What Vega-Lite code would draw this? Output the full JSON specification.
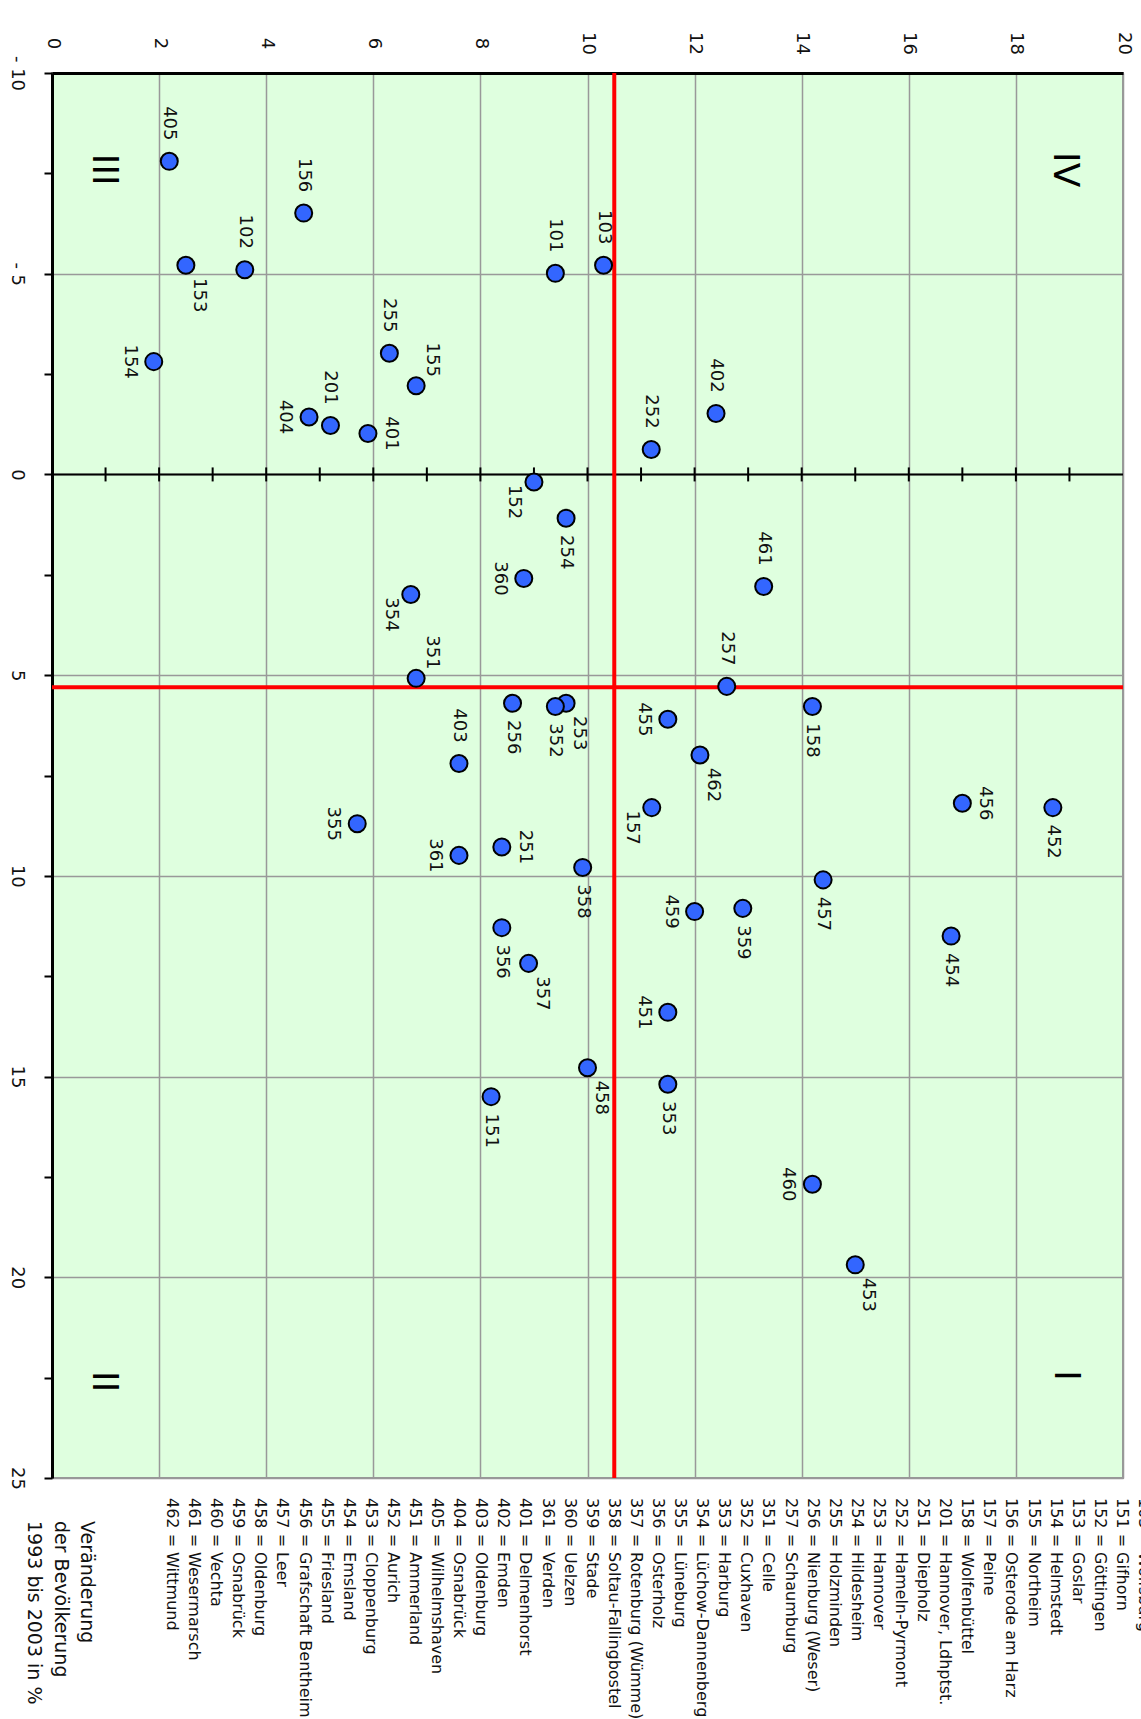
{
  "$schema": "https://vega.github.io/schema/vega-lite/v6.json",
  "autosize": {"type": "pad"},
  "padding": {"left": 6, "top": 30, "right": 0, "bottom": 0},
  "background": "white",
  "bounds": "flush",
  "spacing": 20,
  "config": {"font": "DejaVu Sans", "view": {"stroke": null}},
  "datasets": {
    "pts": [
      {"code": 101, "wert": 9.40, "bev": -5.01, "pos": "N"},
      {"code": 102, "wert": 3.60, "bev": -5.10, "pos": "N"},
      {"code": 103, "wert": 10.30, "bev": -5.21, "pos": "N"},
      {"code": 151, "wert": 8.20, "bev": 15.50, "pos": "S"},
      {"code": 152, "wert": 9.00, "bev": 0.19, "pos": "SW"},
      {"code": 153, "wert": 2.50, "bev": -5.21, "pos": "SE"},
      {"code": 154, "wert": 1.90, "bev": -2.81, "pos": "W"},
      {"code": 155, "wert": 6.80, "bev": -2.21, "pos": "NE"},
      {"code": 156, "wert": 4.70, "bev": -6.51, "pos": "N"},
      {"code": 157, "wert": 11.20, "bev": 8.30, "pos": "SW"},
      {"code": 158, "wert": 14.20, "bev": 5.78, "pos": "S"},
      {"code": 201, "wert": 5.20, "bev": -1.22, "pos": "N"},
      {"code": 251, "wert": 8.40, "bev": 9.28, "pos": "E"},
      {"code": 252, "wert": 11.19, "bev": -0.62, "pos": "N"},
      {"code": 253, "wert": 9.60, "bev": 5.70, "pos": "SE"},
      {"code": 254, "wert": 9.60, "bev": 1.09, "pos": "S"},
      {"code": 255, "wert": 6.30, "bev": -3.02, "pos": "N"},
      {"code": 256, "wert": 8.60, "bev": 5.70, "pos": "S"},
      {"code": 257, "wert": 12.60, "bev": 5.28, "pos": "N"},
      {"code": 351, "wert": 6.80, "bev": 5.08, "pos": "NE"},
      {"code": 352, "wert": 9.40, "bev": 5.78, "pos": "S"},
      {"code": 353, "wert": 11.50, "bev": 15.19, "pos": "S"},
      {"code": 354, "wert": 6.70, "bev": 2.99, "pos": "SW"},
      {"code": 355, "wert": 5.70, "bev": 8.70, "pos": "W"},
      {"code": 356, "wert": 8.40, "bev": 11.29, "pos": "S"},
      {"code": 357, "wert": 8.90, "bev": 12.18, "pos": "SE"},
      {"code": 358, "wert": 9.91, "bev": 9.79, "pos": "S"},
      {"code": 359, "wert": 12.90, "bev": 10.81, "pos": "S"},
      {"code": 360, "wert": 8.81, "bev": 2.59, "pos": "W"},
      {"code": 361, "wert": 7.60, "bev": 9.49, "pos": "W"},
      {"code": 401, "wert": 5.90, "bev": -1.02, "pos": "E"},
      {"code": 402, "wert": 12.40, "bev": -1.52, "pos": "N"},
      {"code": 403, "wert": 7.60, "bev": 7.20, "pos": "N"},
      {"code": 404, "wert": 4.80, "bev": -1.43, "pos": "W"},
      {"code": 405, "wert": 2.19, "bev": -7.80, "pos": "N"},
      {"code": 451, "wert": 11.50, "bev": 13.40, "pos": "W"},
      {"code": 452, "wert": 18.69, "bev": 8.30, "pos": "S"},
      {"code": 453, "wert": 15.00, "bev": 19.69, "pos": "SE"},
      {"code": 454, "wert": 16.79, "bev": 11.50, "pos": "S"},
      {"code": 455, "wert": 11.50, "bev": 6.10, "pos": "W"},
      {"code": 456, "wert": 17.00, "bev": 8.19, "pos": "E"},
      {"code": 457, "wert": 14.40, "bev": 10.10, "pos": "S"},
      {"code": 458, "wert": 10.00, "bev": 14.78, "pos": "SE"},
      {"code": 459, "wert": 12.00, "bev": 10.89, "pos": "W"},
      {"code": 460, "wert": 14.20, "bev": 17.68, "pos": "W"},
      {"code": 461, "wert": 13.29, "bev": 2.79, "pos": "N"},
      {"code": 462, "wert": 12.10, "bev": 6.99, "pos": "SE"}
    ]
  },
  "vconcat": [
    {
      "width": 1071,
      "height": 1405,
      "view": {"fill": "#dfffdf", "stroke": "#999999", "strokeWidth": 2},
      "layer": [
        {
          "data": {"name": "pts"},
          "mark": {"type": "point", "shape": "circle", "filled": true, "size": 290, "fill": "#3366ff", "stroke": "#000000", "strokeWidth": 2, "opacity": 0},
          "encoding": {
            "x": {
              "field": "wert", "type": "quantitative",
              "scale": {"domain": [0, 20], "nice": false, "zero": false},
              "axis": {
                "orient": "top", "title": null,
                "values": [0, 2, 4, 6, 8, 10, 12, 14, 16, 18, 20],
                "labelAngle": 90, "labelAlign": "center", "labelBaseline": "middle",
                "labelPadding": 30, "ticks": true, "tickSize": 0,
                "labelFontSize": 18, "labelColor": "#111", "labelFlush": false, "labelOverlap": false,
                "domainColor": "#000000", "domainWidth": 3,
                "grid": true, "gridColor": "#999999", "gridWidth": 1.5
              }
            },
            "y": {
              "field": "bev", "type": "quantitative",
              "scale": {"domain": [-10, 25], "nice": false, "zero": false, "reverse": true},
              "axis": {
                "orient": "left", "title": null,
                "values": [-10, -7.5, -5, -2.5, 0, 2.5, 5, 7.5, 10, 12.5, 15, 17.5, 20, 22.5, 25],
                "labelExpr": "datum.value % 5 !== 0 ? '' : (datum.value < 0 ? '- ' + abs(datum.value) : '' + datum.value)",
                "labelAngle": 90, "labelAlign": "center", "labelBaseline": "middle",
                "labelPadding": 28, "tickSize": 8, "tickWidth": 2, "tickColor": "#000000",
                "labelFontSize": 18, "labelColor": "#111", "labelFlush": false, "labelOverlap": false,
                "domainColor": "#000000", "domainWidth": 3,
                "grid": true, "gridColor": "#999999", "gridWidth": 1.5,
                "gridOpacity": {"condition": {"test": "datum.value % 5 === 0", "value": 1}, "value": 0}
              }
            }
          }
        },
        {
          "data": {"values": [{"z": 0}]},
          "mark": {"type": "rule", "color": "#000000", "strokeWidth": 2},
          "encoding": {"y": {"field": "z", "type": "quantitative"}}
        },
        {
          "data": {"values": [{"t": 1, "z": 0}, {"t": 2, "z": 0}, {"t": 3, "z": 0}, {"t": 4, "z": 0}, {"t": 5, "z": 0}, {"t": 6, "z": 0}, {"t": 7, "z": 0}, {"t": 8, "z": 0}, {"t": 9, "z": 0}, {"t": 10, "z": 0}, {"t": 11, "z": 0}, {"t": 12, "z": 0}, {"t": 13, "z": 0}, {"t": 14, "z": 0}, {"t": 15, "z": 0}, {"t": 16, "z": 0}, {"t": 17, "z": 0}, {"t": 18, "z": 0}, {"t": 19, "z": 0}]},
          "mark": {"type": "tick", "orient": "vertical", "size": 14, "thickness": 2, "color": "#000000", "opacity": 1},
          "encoding": {"x": {"field": "t", "type": "quantitative"}, "y": {"field": "z", "type": "quantitative"}}
        },
        {
          "data": {"values": [{"m": 10.5}]},
          "mark": {"type": "rule", "color": "#ff0000", "strokeWidth": 4},
          "encoding": {"x": {"field": "m", "type": "quantitative"}}
        },
        {
          "data": {"values": [{"m": 5.3}]},
          "mark": {"type": "rule", "color": "#ff0000", "strokeWidth": 4},
          "encoding": {"y": {"field": "m", "type": "quantitative"}}
        },
        {
          "data": {"name": "pts"},
          "mark": {"type": "point", "shape": "circle", "filled": true, "size": 290, "fill": "#3366ff", "stroke": "#000000", "strokeWidth": 2, "opacity": 1},
          "encoding": {"x": {"field": "wert", "type": "quantitative"}, "y": {"field": "bev", "type": "quantitative"}}
        },
        {
          "data": {"name": "pts"},
          "transform": [{"filter": "datum.pos === 'N'"}],
          "mark": {"type": "text", "angle": 90, "align": "center", "baseline": "middle", "fontSize": 18, "color": "#111", "dx": -38, "dy": 0},
          "encoding": {"x": {"field": "wert", "type": "quantitative"}, "y": {"field": "bev", "type": "quantitative"}, "text": {"field": "code"}}
        },
        {
          "data": {"name": "pts"},
          "transform": [{"filter": "datum.pos === 'S'"}],
          "mark": {"type": "text", "angle": 90, "align": "center", "baseline": "middle", "fontSize": 18, "color": "#111", "dx": 34, "dy": 0},
          "encoding": {"x": {"field": "wert", "type": "quantitative"}, "y": {"field": "bev", "type": "quantitative"}, "text": {"field": "code"}}
        },
        {
          "data": {"name": "pts"},
          "transform": [{"filter": "datum.pos === 'E'"}],
          "mark": {"type": "text", "angle": 90, "align": "center", "baseline": "middle", "fontSize": 18, "color": "#111", "dx": 0, "dy": -23},
          "encoding": {"x": {"field": "wert", "type": "quantitative"}, "y": {"field": "bev", "type": "quantitative"}, "text": {"field": "code"}}
        },
        {
          "data": {"name": "pts"},
          "transform": [{"filter": "datum.pos === 'W'"}],
          "mark": {"type": "text", "angle": 90, "align": "center", "baseline": "middle", "fontSize": 18, "color": "#111", "dx": 0, "dy": 24},
          "encoding": {"x": {"field": "wert", "type": "quantitative"}, "y": {"field": "bev", "type": "quantitative"}, "text": {"field": "code"}}
        },
        {
          "data": {"name": "pts"},
          "transform": [{"filter": "datum.pos === 'SE'"}],
          "mark": {"type": "text", "angle": 90, "align": "center", "baseline": "middle", "fontSize": 18, "color": "#111", "dx": 30, "dy": -13},
          "encoding": {"x": {"field": "wert", "type": "quantitative"}, "y": {"field": "bev", "type": "quantitative"}, "text": {"field": "code"}}
        },
        {
          "data": {"name": "pts"},
          "transform": [{"filter": "datum.pos === 'SW'"}],
          "mark": {"type": "text", "angle": 90, "align": "center", "baseline": "middle", "fontSize": 18, "color": "#111", "dx": 20, "dy": 20},
          "encoding": {"x": {"field": "wert", "type": "quantitative"}, "y": {"field": "bev", "type": "quantitative"}, "text": {"field": "code"}}
        },
        {
          "data": {"name": "pts"},
          "transform": [{"filter": "datum.pos === 'NE'"}],
          "mark": {"type": "text", "angle": 90, "align": "center", "baseline": "middle", "fontSize": 18, "color": "#111", "dx": -26, "dy": -16},
          "encoding": {"x": {"field": "wert", "type": "quantitative"}, "y": {"field": "bev", "type": "quantitative"}, "text": {"field": "code"}}
        },
        {
          "data": {"values": [
            {"q": "IV", "wert": 18.91, "bev": -7.59},
            {"q": "III", "wert": 0.97, "bev": -7.59},
            {"q": "II", "wert": 0.97, "bev": 22.6},
            {"q": "I", "wert": 18.93, "bev": 22.45}
          ]},
          "mark": {"type": "text", "angle": 90, "align": "center", "baseline": "middle", "fontSize": 36, "color": "#000000"},
          "encoding": {"x": {"field": "wert", "type": "quantitative"}, "y": {"field": "bev", "type": "quantitative"}, "text": {"field": "q"}}
        }
      ]
    },
    {
      "width": 1071,
      "height": 222,
      "layer": [
        {
          "data": {"values": [
            {"code": 103, "label": "103 = Wolfsburg"},
            {"code": 151, "label": "151 = Gifhorn"},
            {"code": 152, "label": "152 = Göttingen"},
            {"code": 153, "label": "153 = Goslar"},
            {"code": 154, "label": "154 = Helmstedt"},
            {"code": 155, "label": "155 = Northeim"},
            {"code": 156, "label": "156 = Osterode am Harz"},
            {"code": 157, "label": "157 = Peine"},
            {"code": 158, "label": "158 = Wolfenbüttel"},
            {"code": 201, "label": "201 = Hannover, Ldhptst."},
            {"code": 251, "label": "251 = Diepholz"},
            {"code": 252, "label": "252 = Hameln-Pyrmont"},
            {"code": 253, "label": "253 = Hannover"},
            {"code": 254, "label": "254 = Hildesheim"},
            {"code": 255, "label": "255 = Holzminden"},
            {"code": 256, "label": "256 = Nienburg (Weser)"},
            {"code": 257, "label": "257 = Schaumburg"},
            {"code": 351, "label": "351 = Celle"},
            {"code": 352, "label": "352 = Cuxhaven"},
            {"code": 353, "label": "353 = Harburg"},
            {"code": 354, "label": "354 = Lüchow-Dannenberg"},
            {"code": 355, "label": "355 = Lüneburg"},
            {"code": 356, "label": "356 = Osterholz"},
            {"code": 357, "label": "357 = Rotenburg (Wümme)"},
            {"code": 358, "label": "358 = Soltau-Fallingbostel"},
            {"code": 359, "label": "359 = Stade"},
            {"code": 360, "label": "360 = Uelzen"},
            {"code": 361, "label": "361 = Verden"},
            {"code": 401, "label": "401 = Delmenhorst"},
            {"code": 402, "label": "402 = Emden"},
            {"code": 403, "label": "403 = Oldenburg"},
            {"code": 404, "label": "404 = Osnabrück"},
            {"code": 405, "label": "405 = Wilhelmshaven"},
            {"code": 451, "label": "451 = Ammerland"},
            {"code": 452, "label": "452 = Aurich"},
            {"code": 453, "label": "453 = Cloppenburg"},
            {"code": 454, "label": "454 = Emsland"},
            {"code": 455, "label": "455 = Friesland"},
            {"code": 456, "label": "456 = Grafschaft Bentheim"},
            {"code": 457, "label": "457 = Leer"},
            {"code": 458, "label": "458 = Oldenburg"},
            {"code": 459, "label": "459 = Osnabrück"},
            {"code": 460, "label": "460 = Vechta"},
            {"code": 461, "label": "461 = Wesermarsch"},
            {"code": 462, "label": "462 = Wittmund"}
          ]},
          "mark": {"type": "text", "angle": 90, "align": "left", "baseline": "middle", "fontSize": 16, "color": "#111"},
          "encoding": {
            "x": {"field": "code", "type": "ordinal", "sort": "descending", "scale": {"type": "point", "padding": 0, "range": [120, 1092]}, "axis": null},
            "y": {"value": 0},
            "text": {"field": "label"}
          }
        },
        {
          "data": {"values": [
            {"line": 1, "text": "Veränderung"},
            {"line": 2, "text": "der Bevölkerung"},
            {"line": 3, "text": "1993 bis 2003 in %"}
          ]},
          "mark": {"type": "text", "angle": 90, "align": "left", "baseline": "middle", "fontSize": 19, "color": "#111", "dx": 23},
          "encoding": {
            "x": {"field": "line", "type": "ordinal", "scale": {"type": "point", "padding": 0, "range": [35, -18]}, "axis": null},
            "y": {"value": 0},
            "text": {"field": "text"}
          }
        }
      ],
      "resolve": {"scale": {"x": "independent"}}
    }
  ]
}
